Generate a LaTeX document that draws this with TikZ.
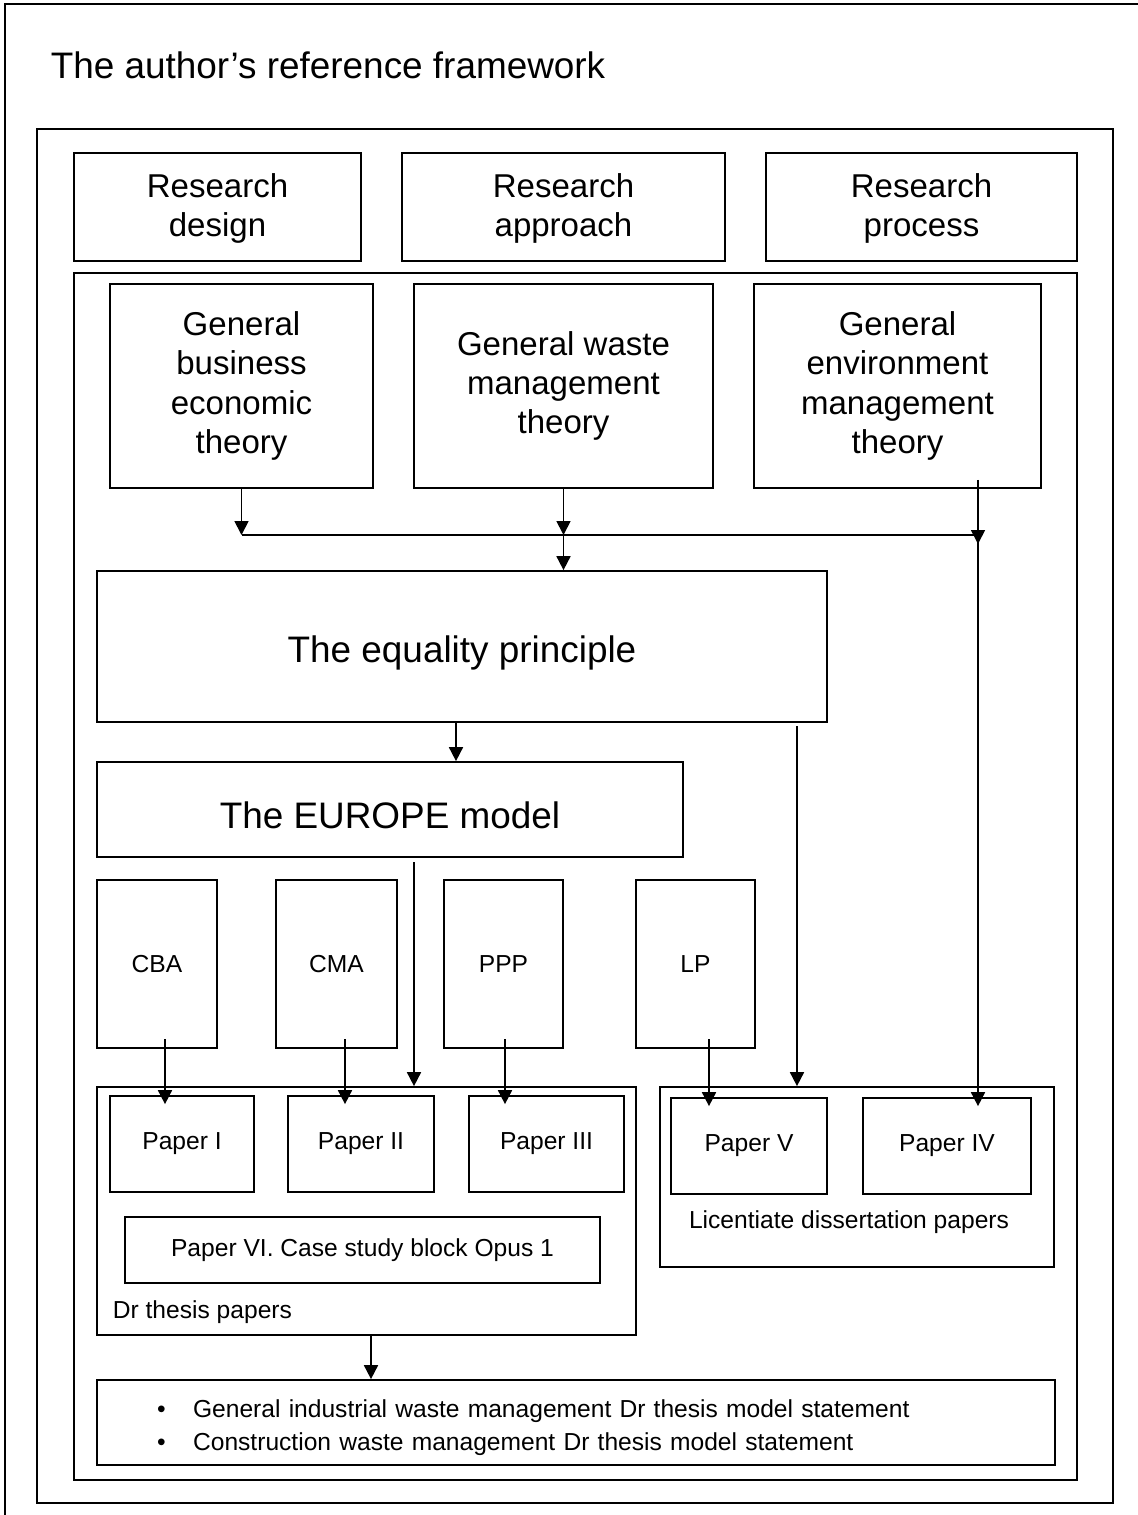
\documentclass[tikz,border=0pt]{standalone}
\usepackage{fontspec}
\setmainfont{Liberation Sans}
\usetikzlibrary{arrows.meta}

\tikzset{
  box/.style={draw, inner sep=0pt, align=center},
  bigtext/.style={font=\fontsize{21}{25}\selectfont},
  midtext/.style={font=\fontsize{18.8}{22.4}\selectfont},
  smalltext/.style={font=\fontsize{14}{17}\selectfont},
  tipin/.style={shorten >=-0.18cm},
  tailin/.style={shorten <=-0.18cm}
}

\begin{document}
\begin{tikzpicture}[>={Triangle[length=0.28cm,width=0.28cm]}, x=0.02cm, y=-0.02cm, line width=1pt]
  \useasboundingbox (0,0) rectangle (1138,1515);
  \draw (1138,4) -- (5,4) -- (5,1515);
  \node[anchor=west, inner sep=0pt, bigtext] (title) at (50,65) {The author’s reference framework};
  \draw (37,129) rectangle (1113,1503);
  \draw (74,273) rectangle (1077,1480);
  % research
  \node[box, midtext, minimum width=5.74cm, minimum height=2.16cm] (design) at (217.5,207) {\rule{0pt}{0.54cm}Research\\design};
  \node[box, midtext, minimum width=6.46cm, minimum height=2.16cm] (approach) at (563.5,207) {\rule{0pt}{0.54cm}Research\\approach};
  \node[box, midtext, minimum width=6.22cm, minimum height=2.16cm] (process) at (921.5,207) {\rule{0pt}{0.54cm}Research\\process};
  % theories
  \node[box, midtext, minimum width=5.26cm, minimum height=4.08cm] (business) at (241.5,386) {General\\business\\economic\\theory};
  \node[box, midtext, minimum width=5.98cm, minimum height=4.08cm] (wastetheory) at (563.5,386) {General waste\\management\\theory};
  \node[box, midtext, minimum width=5.74cm, minimum height=4.08cm] (envtheory) at (897.5,386) {General\\environment\\management\\theory};
  \node[box, bigtext, minimum width=14.6cm, minimum height=3.02cm, text height=0.62cm, text depth=0cm] (equality) at (462,646.5) {The equality principle};
  \node[box, bigtext, minimum width=11.72cm, minimum height=1.9cm, text height=0.74cm, text depth=0cm] (europe) at (390,809.5) {The EUROPE model};
  % methods
  \node[box, smalltext, minimum width=2.4cm, minimum height=3.36cm] (cba) at (157,964) {CBA};
  \node[box, smalltext, minimum width=2.42cm, minimum height=3.36cm] (cma) at (336.5,964) {CMA};
  \node[box, smalltext, minimum width=2.38cm, minimum height=3.36cm] (ppp) at (503.5,964) {PPP};
  \node[box, smalltext, minimum width=2.38cm, minimum height=3.36cm] (lp) at (695.5,964) {LP};
  % papers
  \node[box, minimum width=10.78cm, minimum height=4.96cm] (drframe) at (366.5,1211) {};
  \node[box, minimum width=7.88cm, minimum height=3.6cm] (licframe) at (857,1177) {};
  \node[box, smalltext, minimum width=2.88cm, minimum height=1.92cm] (paperI) at (182,1144) {Paper I};
  \node[box, smalltext, minimum width=2.92cm, minimum height=1.92cm] (paperII) at (361,1144) {Paper II};
  \node[box, smalltext, minimum width=3.1cm, minimum height=1.92cm] (paperIII) at (546.5,1144) {Paper III};
  \node[box, smalltext, minimum width=3.12cm, minimum height=1.92cm] (paperV) at (749,1146) {Paper V};
  \node[box, smalltext, minimum width=3.36cm, minimum height=1.92cm] (paperIV) at (947,1146) {Paper IV};
  \node[box, smalltext, minimum width=9.5cm, minimum height=1.32cm] (paperVI) at (362.5,1250) {Paper VI. Case study block Opus 1};
  \node[anchor=west, inner sep=0pt, smalltext] (drlabel) at (112,1312) {Dr thesis papers};
  \node[inner sep=0pt, smalltext] (liclabel) at (849,1222) {Licentiate dissertation papers};
  \node[box, font=\fontsize{14}{19.3}\selectfont, align=left, text width=16.76cm, inner xsep=1.2cm, minimum height=1.7cm] (statements) at (576,1422.5)
    {\rule{0pt}{0.56cm}\makebox[0.72cm][l]{\textbullet}General industrial waste management Dr thesis model statement\\
     \makebox[0.72cm][l]{\textbullet}Construction waste management Dr thesis model statement};
  % connectors
  \coordinate (jL) at (241.5,535);
  \coordinate (jM) at (563.5,535);
  \coordinate (jR) at (978,535);
  \draw[->] (business.south) -- (jL);
  \draw[->] (wastetheory.south) -- (jM);
  \draw (jL) -- (jR);
  \draw[->] (jM) -- (jM |- equality.north);
  \draw[->, tailin, tipin] (jR |- envtheory.south) -- (jR);
  \draw[->, tipin] (jR) -- (jR |- paperIV.north);
  \coordinate (eqdown) at (456,722);
  \coordinate (eqright) at (797,726);
  \coordinate (euout) at (414,862);
  \draw[->] (eqdown) -- (eqdown |- europe.north);
  \draw[->] (eqright) -- (eqright |- licframe.north);
  \draw[->] (euout) -- (euout |- drframe.north);
  \coordinate (cbaout) at (165,1048);
  \coordinate (cmaout) at (345,1048);
  \coordinate (pppout) at (505,1048);
  \coordinate (lpout) at (709,1048);
  \draw[->, tailin, tipin] (cbaout) -- (cbaout |- paperI.north);
  \draw[->, tailin, tipin] (cmaout) -- (cmaout |- paperII.north);
  \draw[->, tailin, tipin] (pppout) -- (pppout |- paperIII.north);
  \draw[->, tailin, tipin] (lpout) -- (lpout |- paperV.north);
  \coordinate (drout) at (371,1335);
  \draw[->] (drout) -- (drout |- statements.north);
\end{tikzpicture}
\end{document}
